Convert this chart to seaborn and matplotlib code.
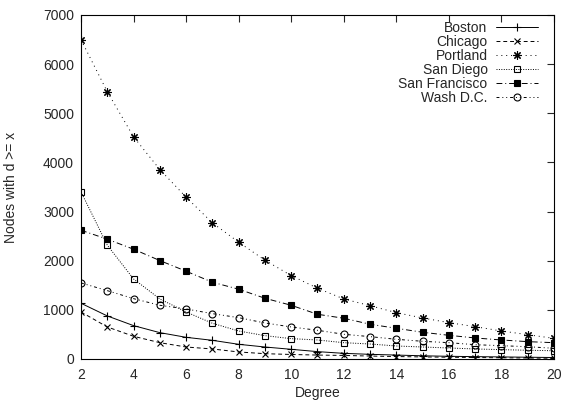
import numpy as np
import pandas as pd
import matplotlib
matplotlib.use("Agg")
import matplotlib.pyplot as plt
import seaborn as sns

# degree values on the x axis
degree = list(range(2, 21))

# nodes with degree >= x
boston = [1134, 876, 679, 536, 441, 380, 299, 244, 197, 150, 115, 95, 80, 65, 55, 48, 42, 36, 30]
chicago = [957, 652, 462, 332, 244, 204, 143, 108, 92, 80, 72, 60, 50, 42, 36, 30, 25, 20, 15]
portland = [6497, 5438, 4521, 3855, 3293, 2770, 2377, 2010, 1697, 1440, 1222, 1085, 943, 835, 740, 658, 570, 495, 420]
san_diego = [3401, 2316, 1629, 1222, 957, 727, 570, 475, 414, 387, 332, 305, 265, 244, 224, 204, 190, 178, 168]
san_francisco = [2620, 2438, 2234, 2003, 1786, 1562, 1420, 1236, 1093, 910, 829, 707, 625, 544, 482, 428, 387, 353, 332]
wash_dc = [1548, 1391, 1228, 1093, 1018, 923, 841, 733, 652, 584, 503, 455, 401, 360, 332, 291, 271, 250, 218]

cities = ["Boston", "Chicago", "Portland", "San Diego", "San Francisco", "Wash D.C."]
series = [boston, chicago, portland, san_diego, san_francisco, wash_dc]

sns.set_style("white")
plt.rcParams["font.family"] = ["Liberation Sans", "DejaVu Sans"]
plt.rcParams["font.size"] = 10

# gnuplot-ish line/point styles
styles = {
    "Boston": dict(ls="-", marker="+", ms=5.5, mfc="black"),
    "Chicago": dict(ls=(0, (4, 3)), marker="x", ms=4.5, mfc="black"),
    "Portland": dict(ls=(0, (1, 4)), marker=(8, 2, 0), ms=6, mfc="black"),
    "San Diego": dict(ls=(0, (1, 1.5)), marker="s", ms=4.5, mfc="none"),
    "San Francisco": dict(ls=(0, (6, 3, 1, 3)), marker="s", ms=5, mfc="black"),
    "Wash D.C.": dict(ls=(0, (3, 3, 1, 3, 1, 3)), marker="o", ms=5, mfc="none"),
}

fig = plt.figure(figsize=(5.63, 4.03), dpi=100)
ax = fig.add_axes([0.1439, 0.1092, 0.84, 0.8536])

for city, vals in zip(cities, series):
    st = styles[city]
    sns.lineplot(x=degree, y=vals, ax=ax, color="black", linewidth=0.7,
                 linestyle=st["ls"], marker=st["marker"], markersize=st["ms"],
                 markerfacecolor=st["mfc"], markeredgecolor="black",
                 markeredgewidth=0.8, label=city)

ax.set_xlim(2, 20)
ax.set_ylim(0, 7000)
ax.set_xticks(range(2, 21, 2))
ax.set_yticks(range(0, 7001, 1000))
ax.set_xlabel("Degree", labelpad=3)
ax.set_ylabel("Nodes with d >= x")
ax.yaxis.set_label_coords(-0.133, 0.5)
ax.tick_params(direction="in", top=True, right=True, length=5, width=0.8, labelsize=10)
ax.tick_params(axis="x", pad=6.5)
ax.tick_params(axis="y", pad=5)
for sp in ax.spines.values():
    sp.set_linewidth(0.8)
    sp.set_color("black")

# labels to the left of the samples, right-aligned (gnuplot key)
leg = ax.legend(loc="upper right", bbox_to_anchor=(0.977, 1.0), frameon=False,
                markerfirst=False, handlelength=3.0, labelspacing=0.0,
                handletextpad=0.6, borderaxespad=0.0, fontsize=10)

fig.savefig("out.png", dpi=100)
